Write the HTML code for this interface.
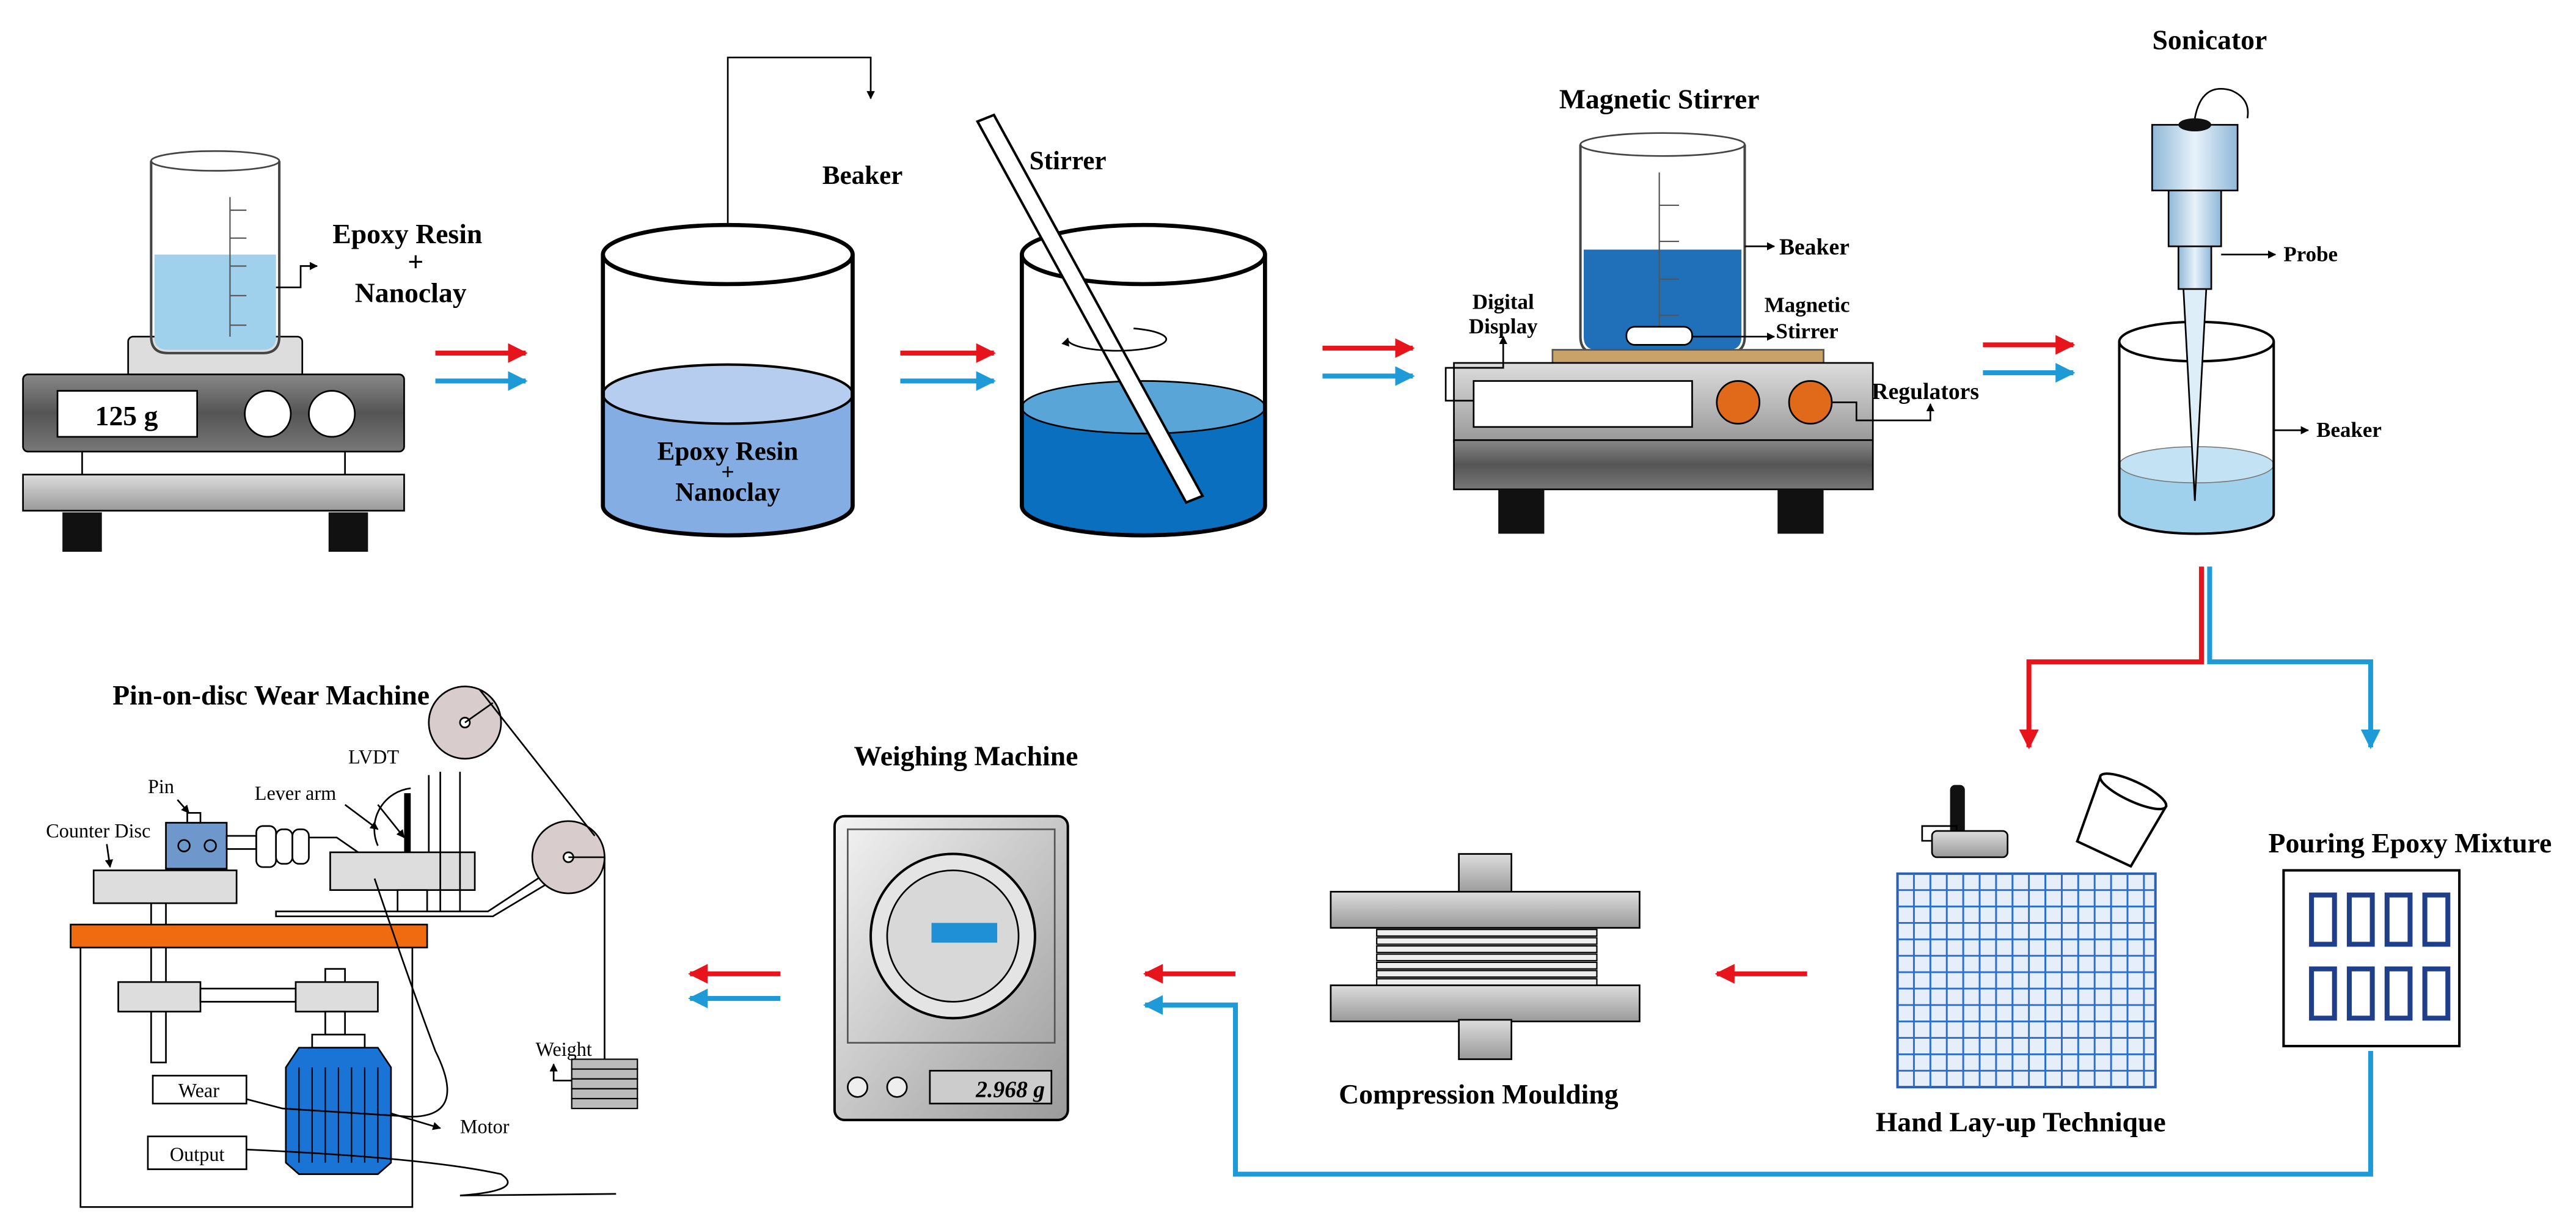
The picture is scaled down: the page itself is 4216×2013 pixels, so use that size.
<!DOCTYPE html>
<html><head><meta charset="utf-8"><style>html,body{margin:0;padding:0;background:#fff}svg{display:block}text{font-family:"Liberation Serif",serif}</style></head><body>
<svg width="4216" height="2013" viewBox="0 0 1568 749" preserveAspectRatio="none" xmlns="http://www.w3.org/2000/svg">
<defs>
<marker id="ar" viewBox="0 0 10 10" refX="9" refY="5" markerWidth="5" markerHeight="5" orient="auto"><path d="M0,0L10,5L0,10z" fill="#000"/></marker>
<marker id="arR" viewBox="0 0 10 10" refX="9" refY="5" markerWidth="4" markerHeight="4" orient="auto"><path d="M0,0L10,5L0,10z" fill="#e8141b"/></marker>
<marker id="arB" viewBox="0 0 10 10" refX="9" refY="5" markerWidth="4" markerHeight="4" orient="auto"><path d="M0,0L10,5L0,10z" fill="#1e9ad6"/></marker>
<linearGradient id="gd" x1="0" y1="0" x2="0" y2="1"><stop offset="0" stop-color="#888"/><stop offset="0.5" stop-color="#555"/><stop offset="1" stop-color="#777"/></linearGradient>
<linearGradient id="gl" x1="0" y1="0" x2="0" y2="1"><stop offset="0" stop-color="#ddd"/><stop offset="1" stop-color="#999"/></linearGradient>
<linearGradient id="gw" x1="0" y1="0" x2="1" y2="1"><stop offset="0" stop-color="#f4f4f4"/><stop offset="1" stop-color="#9a9a9a"/></linearGradient>
<linearGradient id="gp" x1="0" y1="0" x2="1" y2="0"><stop offset="0" stop-color="#8fb8d8"/><stop offset="0.5" stop-color="#e8f2fa"/><stop offset="1" stop-color="#8fb8d8"/></linearGradient>
</defs>

<!-- Scale 1 -->
<rect x="50" y="274" width="160" height="16" fill="#fff" stroke="#000"/>
<rect x="78" y="205" width="106" height="25" rx="3" fill="#ddd" stroke="#000"/>
<rect x="14" y="228" width="232" height="47" rx="3" fill="url(#gd)" stroke="#000"/>
<rect x="35" y="238" width="85" height="28" fill="#fff" stroke="#000"/>
<text x="77" y="259" font-size="17" font-weight="bold" text-anchor="middle">125 g</text>
<circle cx="163" cy="252" r="14" fill="#fff" stroke="#000"/>
<circle cx="202" cy="252" r="14" fill="#fff" stroke="#000"/>
<rect x="14" y="289" width="232" height="22" fill="url(#gl)" stroke="#000"/>
<rect x="38" y="312" width="24" height="24" fill="#111"/>
<rect x="200" y="312" width="24" height="24" fill="#111"/>
<path d="M94,155 L94,205 Q94,213 102,213 L160,213 Q168,213 168,205 L168,155 Z" fill="#9fd0ec"/>
<path d="M92,98 L92,205 Q92,215 102,215 L160,215 Q170,215 170,205 L170,98" fill="none" stroke="#444" stroke-width="1.5"/>
<ellipse cx="131" cy="98" rx="39" ry="6" fill="none" stroke="#444"/>
<g stroke="#555" stroke-width="0.8"><line x1="140" y1="128" x2="150" y2="128"/><line x1="140" y1="145" x2="150" y2="145"/><line x1="140" y1="162" x2="150" y2="162"/><line x1="140" y1="180" x2="150" y2="180"/><line x1="140" y1="198" x2="150" y2="198"/><line x1="140" y1="120" x2="140" y2="205"/></g>
<polyline points="168,175 183,175 183,162 193,162" fill="none" stroke="#000" marker-end="url(#ar)"/>
<text x="248" y="148" font-size="17" font-weight="bold" text-anchor="middle">Epoxy Resin</text>
<text x="253" y="165" font-size="17" font-weight="bold" text-anchor="middle">+</text>
<text x="250" y="184" font-size="17" font-weight="bold" text-anchor="middle">Nanoclay</text>

<!-- arrow pairs -->
<g stroke-width="3">
<line x1="265" y1="215" x2="320" y2="215" stroke="#e8141b" marker-end="url(#arR)"/>
<line x1="265" y1="232" x2="320" y2="232" stroke="#1e9ad6" marker-end="url(#arB)"/>
<line x1="548" y1="215" x2="605" y2="215" stroke="#e8141b" marker-end="url(#arR)"/>
<line x1="548" y1="232" x2="605" y2="232" stroke="#1e9ad6" marker-end="url(#arB)"/>
<line x1="805" y1="212" x2="860" y2="212" stroke="#e8141b" marker-end="url(#arR)"/>
<line x1="805" y1="229" x2="860" y2="229" stroke="#1e9ad6" marker-end="url(#arB)"/>
<line x1="1207" y1="210" x2="1262" y2="210" stroke="#e8141b" marker-end="url(#arR)"/>
<line x1="1207" y1="227" x2="1262" y2="227" stroke="#1e9ad6" marker-end="url(#arB)"/>
</g>

<!-- Cylinder 1 -->
<path d="M367,240 L367,308 A76,18 0 0 0 519,308 L519,240 Z" fill="#84aee3"/>
<ellipse cx="443" cy="240" rx="76" ry="18" fill="#b6cdef" stroke="#000" stroke-width="1.5"/>
<path d="M367,155 L367,308 A76,18 0 0 0 519,308 L519,155" fill="none" stroke="#000" stroke-width="2.5"/>
<ellipse cx="443" cy="155" rx="76" ry="18" fill="none" stroke="#000" stroke-width="2.5"/>
<text x="443" y="280" font-size="16" font-weight="bold" text-anchor="middle">Epoxy  Resin</text>
<text x="443" y="292" font-size="14" font-weight="bold" text-anchor="middle">+</text>
<text x="443" y="305" font-size="16" font-weight="bold" text-anchor="middle">Nanoclay</text>
<polyline points="443,137 443,35 530,35 530,60" fill="none" stroke="#000" marker-end="url(#ar)"/>
<text x="525" y="112" font-size="16" font-weight="bold" text-anchor="middle">Beaker</text>

<!-- Cylinder 2 -->
<path d="M622,248 L622,308 A74,18 0 0 0 770,308 L770,248 Z" fill="#0a6fbf"/>
<ellipse cx="696" cy="248" rx="74" ry="16" fill="#5aa5d8" stroke="#000"/>
<path d="M622,155 L622,308 A74,18 0 0 0 770,308 L770,155" fill="none" stroke="#000" stroke-width="2.5"/>
<ellipse cx="696" cy="155" rx="74" ry="18" fill="none" stroke="#000" stroke-width="2.5"/>
<polygon points="595,74 605,70 732,302 722,306" fill="#fff" stroke="#000" stroke-width="1.5"/>
<path d="M690,200 A30,7 0 1 1 650,206" fill="none" stroke="#000" marker-end="url(#ar)"/>
<text x="650" y="103" font-size="16" font-weight="bold" text-anchor="middle">Stirrer</text>

<!-- Magnetic stirrer -->
<text x="1010" y="66" font-size="17" font-weight="bold" text-anchor="middle">Magnetic Stirrer</text>
<path d="M964,152 L964,205 Q964,213 972,213 L1052,213 Q1060,213 1060,205 L1060,152 Z" fill="#1f70b8"/>
<path d="M962,88 L962,205 Q962,215 972,215 L1052,215 Q1062,215 1062,205 L1062,88" fill="none" stroke="#444" stroke-width="1.5"/>
<ellipse cx="1012" cy="88" rx="50" ry="7" fill="none" stroke="#444"/>
<g stroke="#555" stroke-width="0.8"><line x1="1010" y1="105" x2="1010" y2="205"/><line x1="1010" y1="125" x2="1022" y2="125"/><line x1="1010" y1="147" x2="1022" y2="147"/><line x1="1010" y1="170" x2="1022" y2="170"/><line x1="1010" y1="192" x2="1022" y2="192"/></g>
<rect x="990" y="199" width="40" height="11" rx="5" fill="#fff" stroke="#000"/>
<rect x="945" y="213" width="165" height="9" fill="#c9a26a" stroke="#555"/>
<rect x="885" y="221" width="255" height="48" fill="url(#gl)" stroke="#000"/>
<rect x="897" y="232" width="133" height="28" fill="#fff" stroke="#000"/>
<circle cx="1058" cy="245" r="13" fill="#e06a1a" stroke="#000"/>
<circle cx="1102" cy="245" r="13" fill="#e06a1a" stroke="#000"/>
<rect x="885" y="268" width="255" height="30" fill="url(#gd)" stroke="#000"/>
<rect x="912" y="298" width="28" height="27" fill="#111"/>
<rect x="1082" y="298" width="28" height="27" fill="#111"/>
<polyline points="1062,150 1080,150" fill="none" stroke="#000" marker-end="url(#ar)"/>
<text x="1083" y="155" font-size="14" font-weight="bold">Beaker</text>
<polyline points="1030,205 1080,205" fill="none" stroke="#000" marker-end="url(#ar)"/>
<text x="1100" y="190" font-size="13" font-weight="bold" text-anchor="middle">Magnetic</text>
<text x="1100" y="206" font-size="13" font-weight="bold" text-anchor="middle">Stirrer</text>
<polyline points="897,244 880,244 880,224 915,224 915,205" fill="none" stroke="#000" marker-end="url(#ar)"/>
<text x="915" y="188" font-size="13" font-weight="bold" text-anchor="middle">Digital</text>
<text x="915" y="203" font-size="13" font-weight="bold" text-anchor="middle">Display</text>
<polyline points="1115,245 1130,245 1130,256 1175,256 1175,246" fill="none" stroke="#000" marker-end="url(#ar)"/>
<text x="1172" y="243" font-size="14" font-weight="bold" text-anchor="middle">Regulators</text>

<!-- Sonicator -->
<text x="1345" y="30" font-size="17" font-weight="bold" text-anchor="middle">Sonicator</text>
<path d="M1290,283 L1290,313 A47,12 0 0 0 1384,313 L1384,283 Z" fill="#9fd0ec"/>
<ellipse cx="1337" cy="283" rx="47" ry="11" fill="#c3e2f4" stroke="#777" stroke-width="0.6"/>
<path d="M1290,208 L1290,313 A47,12 0 0 0 1384,313 L1384,208" fill="none" stroke="#000" stroke-width="1.5"/>
<ellipse cx="1337" cy="208" rx="47" ry="12" fill="none" stroke="#000" stroke-width="1.5"/>
<polygon points="1329,175 1343,175 1336,305" fill="#ddeef8" stroke="#000"/>
<rect x="1326" y="148" width="20" height="28" fill="url(#gp)" stroke="#000"/>
<rect x="1320" y="115" width="32" height="35" fill="url(#gp)" stroke="#000"/>
<rect x="1310" y="76" width="52" height="40" fill="url(#gp)" stroke="#000"/>
<ellipse cx="1336" cy="76" rx="10" ry="4" fill="#111"/>
<path d="M1336,72 Q1340,50 1358,55 Q1370,60 1368,72" fill="none" stroke="#000"/>
<polyline points="1352,155 1385,155" fill="none" stroke="#000" marker-end="url(#ar)"/>
<text x="1390" y="159" font-size="13" font-weight="bold">Probe</text>
<polyline points="1384,262 1405,262" fill="none" stroke="#000" marker-end="url(#ar)"/>
<text x="1410" y="266" font-size="13" font-weight="bold">Beaker</text>

<!-- connectors from sonicator -->
<polyline points="1340,345 1340,403 1235,403 1235,455" fill="none" stroke="#e8141b" stroke-width="3" marker-end="url(#arR)"/>
<polyline points="1345,345 1345,403 1443,403 1443,455" fill="none" stroke="#1e9ad6" stroke-width="3" marker-end="url(#arB)"/>

<!-- Pouring -->
<text x="1467" y="519" font-size="17" font-weight="bold" text-anchor="middle">Pouring  Epoxy Mixture</text>
<rect x="1390" y="530" width="107" height="107" fill="#fff" stroke="#000" stroke-width="1.5"/>
<g fill="#fff" stroke="#1f3f8a" stroke-width="3">
<rect x="1407" y="545" width="14" height="30"/><rect x="1430" y="545" width="14" height="30"/><rect x="1453" y="545" width="14" height="30"/><rect x="1476" y="545" width="14" height="30"/>
<rect x="1407" y="590" width="14" height="30"/><rect x="1430" y="590" width="14" height="30"/><rect x="1453" y="590" width="14" height="30"/><rect x="1476" y="590" width="14" height="30"/>
</g>
<polyline points="1443,640 1443,715 752,715 752,612 697,612" fill="none" stroke="#1e9ad6" stroke-width="3" marker-end="url(#arB)"/>
<line x1="752" y1="593" x2="697" y2="593" stroke="#e8141b" stroke-width="3" marker-end="url(#arR)"/>

<!-- Hand lay-up -->
<rect x="1155" y="532" width="157" height="130" fill="#e6eefa" stroke="#2a5fb0" stroke-width="1.5"/>
<g stroke="#2a6fd0" stroke-width="1.1">
<line x1="1165" y1="532" x2="1165" y2="662"/><line x1="1175" y1="532" x2="1175" y2="662"/><line x1="1185" y1="532" x2="1185" y2="662"/><line x1="1195" y1="532" x2="1195" y2="662"/><line x1="1205" y1="532" x2="1205" y2="662"/><line x1="1215" y1="532" x2="1215" y2="662"/><line x1="1225" y1="532" x2="1225" y2="662"/><line x1="1235" y1="532" x2="1235" y2="662"/><line x1="1245" y1="532" x2="1245" y2="662"/><line x1="1255" y1="532" x2="1255" y2="662"/><line x1="1265" y1="532" x2="1265" y2="662"/><line x1="1275" y1="532" x2="1275" y2="662"/><line x1="1285" y1="532" x2="1285" y2="662"/><line x1="1295" y1="532" x2="1295" y2="662"/><line x1="1305" y1="532" x2="1305" y2="662"/>
<line x1="1155" y1="542" x2="1312" y2="542"/><line x1="1155" y1="552" x2="1312" y2="552"/><line x1="1155" y1="562" x2="1312" y2="562"/><line x1="1155" y1="572" x2="1312" y2="572"/><line x1="1155" y1="582" x2="1312" y2="582"/><line x1="1155" y1="592" x2="1312" y2="592"/><line x1="1155" y1="602" x2="1312" y2="602"/><line x1="1155" y1="612" x2="1312" y2="612"/><line x1="1155" y1="622" x2="1312" y2="622"/><line x1="1155" y1="632" x2="1312" y2="632"/><line x1="1155" y1="642" x2="1312" y2="642"/><line x1="1155" y1="652" x2="1312" y2="652"/>
</g>
<rect x="1187" y="478" width="9" height="30" rx="3" fill="#111"/>
<polyline points="1191,508 1191,503 1170,503 1170,512 1176,512" fill="none" stroke="#000"/>
<rect x="1176" y="506" width="46" height="16" rx="3" fill="url(#gl)" stroke="#000"/>
<g transform="rotate(25 1290 500)"><path d="M1268,480 L1312,480 L1308,522 L1272,522 Z" fill="#fff" stroke="#000" stroke-width="1.5"/><ellipse cx="1290" cy="480" rx="22" ry="6" fill="#fff" stroke="#000" stroke-width="1.5"/></g>
<text x="1230" y="689" font-size="17" font-weight="bold" text-anchor="middle">Hand Lay-up Technique</text>
<line x1="1100" y1="593" x2="1045" y2="593" stroke="#e8141b" stroke-width="3" marker-end="url(#arR)"/>

<!-- Compression moulding -->
<rect x="888" y="520" width="32" height="24" fill="url(#gl)" stroke="#000"/>
<rect x="810" y="543" width="188" height="22" fill="url(#gl)" stroke="#000"/>
<g fill="#eee" stroke="#000" stroke-width="0.8">
<rect x="838" y="566" width="134" height="4"/><rect x="838" y="571" width="134" height="4"/><rect x="838" y="576" width="134" height="4"/><rect x="838" y="581" width="134" height="4"/><rect x="838" y="586" width="134" height="4"/><rect x="838" y="591" width="134" height="4"/><rect x="838" y="596" width="134" height="4"/>
</g>
<rect x="810" y="600" width="188" height="22" fill="url(#gl)" stroke="#000"/>
<rect x="888" y="621" width="32" height="24" fill="url(#gl)" stroke="#000"/>
<text x="900" y="672" font-size="17" font-weight="bold" text-anchor="middle">Compression Moulding</text>

<!-- Weighing machine -->
<text x="588" y="466" font-size="17" font-weight="bold" text-anchor="middle">Weighing Machine</text>
<rect x="508" y="497" width="142" height="185" rx="6" fill="url(#gw)" stroke="#000" stroke-width="1.5"/>
<rect x="516" y="505" width="126" height="130" fill="none" stroke="#555"/>
<circle cx="580" cy="570" r="50" fill="#e4e4e4" stroke="#000" stroke-width="1.5"/>
<circle cx="580" cy="570" r="40" fill="#d8d8d8" stroke="#000"/>
<rect x="567" y="562" width="40" height="12" fill="#1f8fd6"/>
<circle cx="522" cy="662" r="6" fill="#eee" stroke="#000"/>
<circle cx="546" cy="662" r="6" fill="#eee" stroke="#000"/>
<rect x="566" y="652" width="74" height="20" fill="#ccc" stroke="#000"/>
<text x="636" y="668" font-size="14" font-weight="bold" font-style="italic" text-anchor="end">2.968 g</text>
<line x1="475" y1="593" x2="420" y2="593" stroke="#e8141b" stroke-width="3" marker-end="url(#arR)"/>
<line x1="475" y1="608" x2="420" y2="608" stroke="#1e9ad6" stroke-width="3" marker-end="url(#arB)"/>

<!-- Pin-on-disc -->
<text x="165" y="429" font-size="17" font-weight="bold" text-anchor="middle">Pin-on-disc  Wear Machine</text>
<rect x="49" y="577" width="202" height="158" fill="#fff" stroke="#000"/>
<rect x="43" y="563" width="217" height="14" fill="#f06a10" stroke="#000"/>
<rect x="92" y="550" width="9" height="13" fill="#fff" stroke="#000"/>
<rect x="57" y="530" width="87" height="20" fill="#ddd" stroke="#000"/>
<rect x="92" y="577" width="9" height="70" fill="#fff" stroke="#000"/>
<rect x="72" y="598" width="50" height="18" fill="#ddd" stroke="#000"/>
<rect x="122" y="602" width="58" height="8" fill="#fff" stroke="#000"/>
<rect x="180" y="598" width="50" height="18" fill="#ddd" stroke="#000"/>
<rect x="198" y="590" width="12" height="8" fill="#fff" stroke="#000"/>
<rect x="198" y="616" width="12" height="14" fill="#fff" stroke="#000"/>
<rect x="190" y="630" width="32" height="8" fill="#fff" stroke="#000"/>
<polygon points="182,638 230,638 238,650 238,708 230,715 182,715 174,708 174,650" fill="#1a74d6" stroke="#000"/>
<g stroke="#000" stroke-width="0.8"><line x1="182" y1="650" x2="182" y2="708"/><line x1="190" y1="650" x2="190" y2="708"/><line x1="198" y1="650" x2="198" y2="708"/><line x1="206" y1="650" x2="206" y2="708"/><line x1="214" y1="650" x2="214" y2="708"/><line x1="222" y1="650" x2="222" y2="708"/><line x1="230" y1="650" x2="230" y2="708"/></g>
<rect x="101" y="501" width="37" height="28" fill="#6e98cc" stroke="#000"/>
<circle cx="112" cy="515" r="3.5" fill="none" stroke="#000"/><circle cx="128" cy="515" r="3.5" fill="none" stroke="#000"/>
<rect x="114" y="495" width="8" height="6" fill="#fff" stroke="#000"/>
<rect x="138" y="509" width="18" height="8" fill="#fff" stroke="#000"/>
<rect x="156" y="503" width="12" height="25" rx="4" fill="#fff" stroke="#000"/>
<rect x="168" y="505" width="10" height="21" rx="4" fill="#fff" stroke="#000"/>
<rect x="178" y="505" width="10" height="21" rx="4" fill="#fff" stroke="#000"/>
<polyline points="188,510 205,510 218,519 M188,518 203,518 212,526" fill="none" stroke="#000"/>
<rect x="201" y="519" width="88" height="23" fill="#ddd" stroke="#000"/>
<rect x="242" y="542" width="18" height="14" fill="#fff" stroke="#000"/>
<polygon points="168,555 297,555 335,530 340,534 300,558 168,558" fill="#fff" stroke="#000"/>
<line x1="261" y1="519" x2="261" y2="472" stroke="#000"/>
<line x1="268" y1="555" x2="268" y2="470" stroke="#000"/>
<line x1="280" y1="555" x2="280" y2="470" stroke="#000"/>
<rect x="246" y="483" width="4" height="36" fill="#000"/>
<path d="M230,515 A25,25 0 0 1 250,480" fill="none" stroke="#000"/>
<line x1="230" y1="490" x2="246" y2="510" stroke="#000" marker-end="url(#ar)"/>
<circle cx="283" cy="440" r="22" fill="#d8cccc" stroke="#000"/>
<circle cx="283" cy="440" r="3" fill="#fff" stroke="#000"/>
<line x1="283" y1="440" x2="300" y2="428" stroke="#000"/>
<circle cx="346" cy="522" r="22" fill="#d8cccc" stroke="#000"/>
<circle cx="346" cy="522" r="3" fill="#fff" stroke="#000"/>
<line x1="346" y1="522" x2="368" y2="522" stroke="#000"/>
<line x1="292" y1="420" x2="362" y2="509" stroke="#000"/>
<line x1="368" y1="522" x2="368" y2="645" stroke="#000"/>
<g fill="#bbb" stroke="#000" stroke-width="0.8"><rect x="348" y="645" width="40" height="6"/><rect x="348" y="651" width="40" height="6"/><rect x="348" y="657" width="40" height="6"/><rect x="348" y="663" width="40" height="6"/><rect x="348" y="669" width="40" height="6"/></g>
<polyline points="348,658 337,658 337,648" fill="none" stroke="#000" marker-end="url(#ar)"/>
<text x="326" y="643" font-size="12">Weight</text>
<path d="M228,535 Q250,600 265,640 Q285,680 250,680 L172,675 L145,668" fill="none" stroke="#000"/>
<path d="M150,700 Q260,705 305,715 Q320,725 280,728 L375,727" fill="none" stroke="#000"/>
<rect x="93" y="655" width="57" height="17" fill="#fff" stroke="#000"/>
<text x="121" y="668" font-size="12" text-anchor="middle">Wear</text>
<rect x="90" y="692" width="60" height="20" fill="#fff" stroke="#000"/>
<text x="120" y="707" font-size="12" text-anchor="middle">Output</text>
<line x1="238" y1="678" x2="268" y2="687" stroke="#000" marker-end="url(#ar)"/>
<text x="280" y="690" font-size="12">Motor</text>
<text x="28" y="510" font-size="12">Counter Disc</text>
<line x1="65" y1="514" x2="67" y2="528" stroke="#000" marker-end="url(#ar)"/>
<text x="90" y="483" font-size="12">Pin</text>
<line x1="108" y1="487" x2="115" y2="495" stroke="#000" marker-end="url(#ar)"/>
<text x="155" y="487" font-size="12">Lever arm</text>
<line x1="210" y1="490" x2="230" y2="505" stroke="#000" marker-end="url(#ar)"/>
<text x="212" y="465" font-size="12">LVDT</text>
</svg>
</body></html>
